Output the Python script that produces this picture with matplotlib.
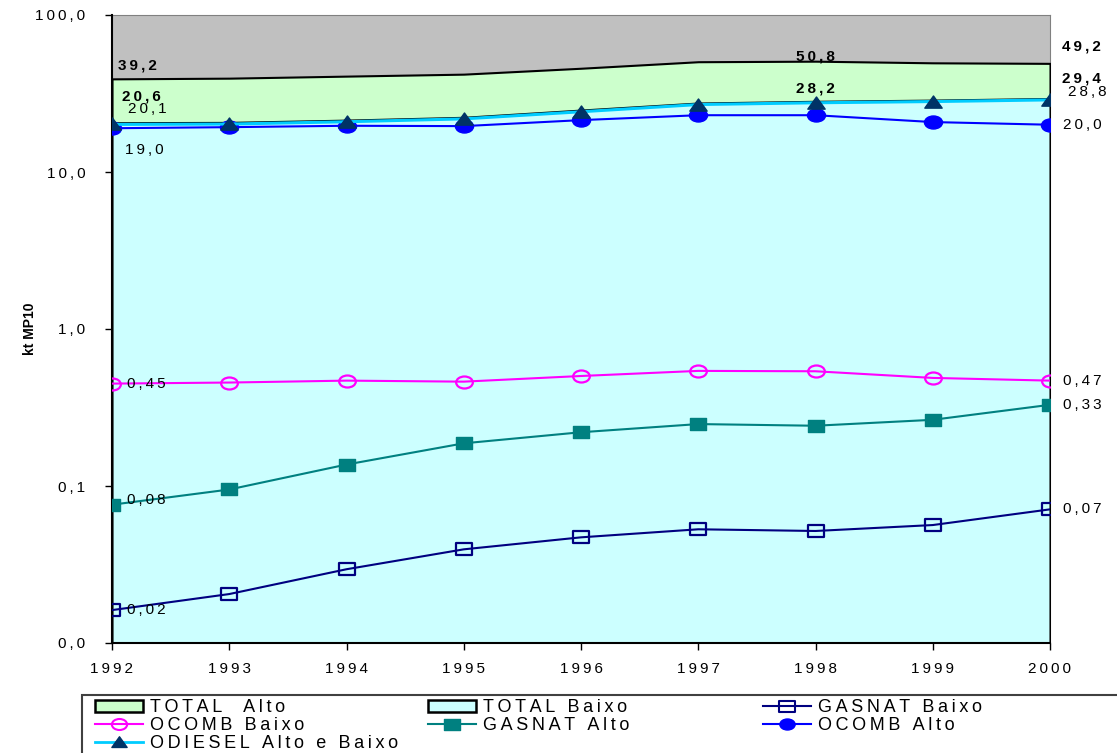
import numpy as np
import matplotlib.pyplot as plt
from matplotlib.patches import Patch, Rectangle
from matplotlib.lines import Line2D
from matplotlib.path import Path
from matplotlib.ticker import FixedLocator, NullLocator

plt.rcParams['font.family'] = ['Liberation Sans', 'DejaVu Sans']

# Dados (kt MP10)
anos = [1992, 1993, 1994, 1995, 1996, 1997, 1998, 1999, 2000]
total_alto = [39.2, 39.6, 40.8, 42.0, 45.8, 50.4, 50.8, 49.6, 49.2]
total_baixo = [20.6, 20.7, 21.4, 22.3, 24.8, 27.5, 28.2, 28.7, 29.4]
odiesel = [20.1, 20.2, 20.9, 21.8, 24.2, 26.9, 27.6, 28.1, 28.8]
ocomb_alto = [19.0, 19.3, 19.7, 19.6, 21.4, 23.0, 23.0, 20.8, 20.0]
ocomb_baixo = [0.449, 0.456, 0.469, 0.462, 0.502, 0.541, 0.538, 0.488, 0.469]
gasnat_alto = [0.076, 0.095, 0.137, 0.187, 0.220, 0.248, 0.242, 0.264, 0.329]
gasnat_baixo = [0.0162, 0.0205, 0.0295, 0.0395, 0.0471, 0.0530, 0.0517, 0.0564, 0.0710]

y_ticks = [0.01, 0.1, 1, 10, 100]
y_labels = ['0,0', '0,1', '1,0', '10,0', '100,0']

W, H = 1117, 753


def esp(s):
    # espaçamento entre caracteres como no Excel
    return '\u2009'.join(s)


def fmt(v, casas):
    return esp(f'{v:.{casas}f}'.replace('.', ','))


# marcadores achatados (elipse, retangulo, triangulo)
circ = Path.unit_circle()
elipse = Path(circ.vertices * [1, 0.72], circ.codes)
retang = Path([(-1, -0.72), (1, -0.72), (1, 0.72), (-1, 0.72), (-1, -0.72)],
              [Path.MOVETO, Path.LINETO, Path.LINETO, Path.LINETO, Path.CLOSEPOLY])
triang = Path([(-1, -0.65), (1, -0.65), (0, 0.75), (-1, -0.65)],
              [Path.MOVETO, Path.LINETO, Path.LINETO, Path.CLOSEPOLY])

fig = plt.figure(figsize=(W / 100, H / 100), dpi=100)
ax = fig.add_axes([112 / W, 110 / H, 938 / W, 628 / H])
ax.set_facecolor('#C0C0C0')
ax.set_yscale('log')
ax.set_ylim(0.01, 100)
ax.set_xlim(anos[0], anos[-1])

ymin = 0.01
ax.fill_between(anos, ymin, total_alto, facecolor='#CCFFCC', edgecolor='black', lw=1.5, zorder=1)
ax.fill_between(anos, ymin, total_baixo, facecolor='#CCFFFF', edgecolor='black', lw=1.5, zorder=2)

ax.plot(anos, odiesel, color='#00CCFF', lw=2.2, marker=triang, ms=12.5, mfc='#003366', mec='#003366', zorder=4)
ax.plot(anos, ocomb_alto, color='#0000FF', lw=1.5, marker=elipse, ms=13, mfc='#0000FF', mec='#0000FF', zorder=3)
ax.plot(anos, ocomb_baixo, color='#FF00FF', lw=1.5, marker=elipse, ms=12, mfc='none', mec='#FF00FF', mew=1.6, zorder=3)
ax.plot(anos, gasnat_alto, color='#008080', lw=1.5, marker=retang, ms=12, mfc='#008080', mec='#008080', zorder=3)
ax.plot(anos, gasnat_baixo, color='#000080', lw=1.5, marker=retang, ms=12, mfc='none', mec='#000080', mew=1.6, zorder=3)

# rotulos de dados (deslocamento em pixels)
fs = 11


def rotulo(x, y, txt, dx, dy, bold=False, ha='left'):
    ax.annotate(txt, (x, y), xytext=(dx, dy), textcoords='offset pixels',
                fontsize=fs, fontweight='bold' if bold else 'normal',
                ha=ha, va='center', annotation_clip=False, zorder=6)


rotulo(anos[0], total_alto[0], fmt(total_alto[0], 1), 6, 13, True)
rotulo(anos[6], total_alto[6], fmt(total_alto[6], 1), 0, 5, True, 'center')
rotulo(anos[-1], total_alto[-1], fmt(total_alto[-1], 1), 12, 17, True)
rotulo(anos[0], total_baixo[0], fmt(total_baixo[0], 1), 10, 26, True)
rotulo(anos[6], total_baixo[6], fmt(total_baixo[6], 1), 0, 13, True, 'center')
rotulo(anos[-1], total_baixo[-1], fmt(total_baixo[-1], 1), 12, 20, True)
rotulo(anos[0], odiesel[0], fmt(odiesel[0], 1), 16, 15)
rotulo(anos[-1], odiesel[-1], fmt(odiesel[-1], 1), 18, 8)
rotulo(anos[0], ocomb_alto[0], fmt(ocomb_alto[0], 1), 13, -22)
rotulo(anos[-1], ocomb_alto[-1], fmt(ocomb_alto[-1], 1), 13, 0)
rotulo(anos[0], ocomb_baixo[0], fmt(ocomb_baixo[0], 2), 15, 0)
rotulo(anos[-1], ocomb_baixo[-1], fmt(ocomb_baixo[-1], 2), 13, 0)
rotulo(anos[0], gasnat_alto[0], fmt(gasnat_alto[0], 2), 15, 5)
rotulo(anos[-1], gasnat_alto[-1], fmt(gasnat_alto[-1], 2), 13, 0)
rotulo(anos[0], gasnat_baixo[0], fmt(gasnat_baixo[0], 2), 15, 0)
rotulo(anos[-1], gasnat_baixo[-1], fmt(gasnat_baixo[-1], 2), 13, 0)

ax.yaxis.set_major_locator(FixedLocator(y_ticks))
ax.yaxis.set_minor_locator(NullLocator())
ax.set_yticklabels([esp(s) for s in y_labels], fontsize=11)
ax.set_xticks(anos)
ax.set_xticklabels([esp(str(a)) for a in anos], fontsize=11)
ax.tick_params(axis='y', direction='out', length=5, width=1, pad=14)
ax.tick_params(axis='x', direction='out', length=5, width=1, pad=9)
fig.text(30 / W, 1 - 329 / H, 'kt MP10', rotation=90, fontsize=10, fontweight='bold',
         ha='center', va='center')

for s in ['left', 'bottom']:
    ax.spines[s].set_color('black')
    ax.spines[s].set_linewidth(1.5)
for s in ['top', 'right']:
    ax.spines[s].set_color('#808080')
    ax.spines[s].set_zorder(0.5)

# legenda: moldura e tres colunas
fig.add_artist(Rectangle((82 / W, -0.1), 1.2, (H - 695) / H + 0.1, transform=fig.transFigure,
                         fill=False, edgecolor='#404040', lw=1.5))

h_total_alto = Patch(facecolor='#CCFFCC', edgecolor='black', lw=1.8, label=esp('TOTAL  Alto'))
h_total_baixo = Patch(facecolor='#CCFFFF', edgecolor='black', lw=1.8, label=esp('TOTAL Baixo'))
h_gasnat_baixo = Line2D([], [], color='#000080', lw=1.5, marker=retang, ms=11, mfc='none', mec='#000080',
                        mew=1.5, label=esp('GASNAT Baixo'))
h_ocomb_baixo = Line2D([], [], color='#FF00FF', lw=1.5, marker=elipse, ms=11, mfc='none', mec='#FF00FF',
                       mew=1.5, label=esp('OCOMB Baixo'))
h_gasnat_alto = Line2D([], [], color='#008080', lw=1.5, marker=retang, ms=11, mfc='#008080', mec='#008080',
                       label=esp('GASNAT Alto'))
h_ocomb_alto = Line2D([], [], color='#0000FF', lw=1.5, marker=elipse, ms=11, mfc='#0000FF', mec='#0000FF',
                      label=esp('OCOMB Alto'))
h_odiesel = Line2D([], [], color='#00CCFF', lw=2, marker=triang, ms=11, mfc='#003366', mec='#003366',
                   label=esp('ODIESEL Alto e Baixo'))

colunas = [
    (95, [h_total_alto, h_ocomb_baixo, h_odiesel]),
    (428, [h_total_baixo, h_gasnat_alto]),
    (763, [h_gasnat_baixo, h_ocomb_alto]),
]
for x0, hs in colunas:
    fig.legend(handles=hs, loc='upper left', bbox_to_anchor=(x0 / W, (H - 699) / H),
               frameon=False, fontsize=13, borderpad=0, borderaxespad=0, labelspacing=0.05,
               handlelength=2.67, handletextpad=0.4, handleheight=0.65)

fig.savefig('out.png', dpi=100)
